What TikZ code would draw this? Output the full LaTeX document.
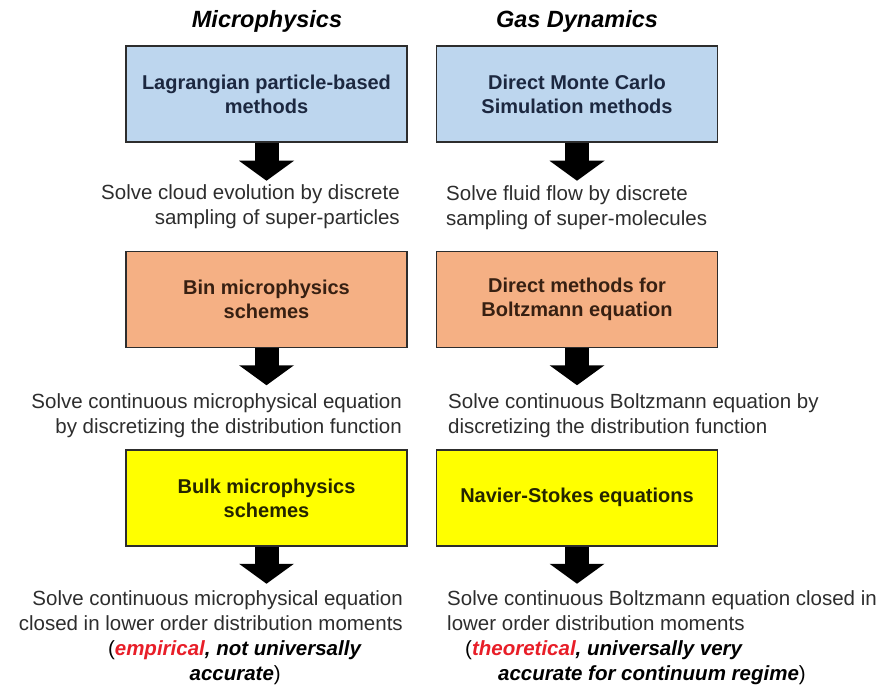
\documentclass[tikz,border=0pt]{standalone}
\usepackage{fontspec}
\setmainfont{Liberation Sans}
\usetikzlibrary{arrows.meta}
\definecolor{boxblue}{RGB}{189,214,238}
\definecolor{boxorange}{RGB}{245,176,132}
\definecolor{boxyellow}{RGB}{255,255,0}
\definecolor{boxline}{RGB}{45,45,45}
\definecolor{bluetext}{RGB}{28,40,64}
\definecolor{orangetext}{RGB}{55,32,18}
\definecolor{yellowtext}{RGB}{36,36,0}
\definecolor{bodytext}{RGB}{45,45,45}
\definecolor{hired}{RGB}{232,30,40}
\begin{document}
\begin{tikzpicture}[x=1pt,y=-1pt,
  box/.style={draw=boxline, line width=1.5pt, minimum width=281pt, minimum height=96pt,
    inner sep=0pt, align=center, font=\fontsize{20}{24}\selectfont\bfseries},
  desc/.style={inner sep=0pt, font=\fontsize{20.5}{25}\selectfont, text=bodytext},
  bigarrow/.style={draw=black, line width=24pt, -{Triangle[width=54pt,length=20pt]}},
  heading/.style={inner sep=0pt, anchor=base, font=\fontsize{23.5}{28}\selectfont\bfseries\itshape}]
\useasboundingbox (0,0) rectangle (892,687);

% headings
\node[heading] (hL) at (267,28) {Microphysics};
\node[heading] (hR) at (577,28) {Gas Dynamics};

% boxes
\node[box, fill=boxblue, text=bluetext] (b1L) at (266.5,94) {Lagrangian particle-based\\methods};
\node[box, fill=boxblue, text=bluetext] (b1R) at (577,94) {Direct Monte Carlo\\Simulation methods};
\node[box, fill=boxorange, text=orangetext] (b2L) at (266.5,299.5) {Bin microphysics\\schemes};
\node[box, fill=boxorange, text=orangetext] (b2R) at (577,299.5) {Direct methods for\\Boltzmann equation};
\node[box, fill=boxyellow, text=yellowtext] (b3L) at (266.5,498) {Bulk microphysics\\schemes};
\node[box, fill=boxyellow, text=yellowtext] (b3R) at (577,498) {\raisebox{6pt}{Navier-Stokes equations}};

% descriptions
\node[desc, anchor=north east, align=right] (d1L) at (400,184)
  {Solve cloud evolution by discrete\\sampling of super-particles};
\node[desc, anchor=north west, align=left] (d1R) at (446,185)
  {Solve fluid flow by discrete\\sampling of super-molecules};
\node[desc, anchor=north east, align=right] (d2L) at (402,393)
  {Solve continuous microphysical equation\\by discretizing the distribution function};
\node[desc, anchor=north west, align=left] (d2R) at (448,393)
  {Solve continuous Boltzmann equation by\\discretizing the distribution function};
\node[desc, anchor=north east, align=right, font=\fontsize{20.5}{25.3}\selectfont] (d3L) at (403,590)
  {Solve continuous microphysical equation\\closed in lower order distribution moments\\
   \textcolor{black}{(\textbf{\textit{\textcolor{hired}{empirical}, not universally}}}\hspace*{41pt}\mbox{}\\
   \textcolor{black}{\textbf{\textit{accurate}})}\hspace*{122pt}\mbox{}};
\node[desc, anchor=north west, align=left, font=\fontsize{20.5}{25.3}\selectfont] (d3R) at (447,590)
  {Solve continuous Boltzmann equation closed in\\lower order distribution moments\\
   \hspace*{18pt}\textcolor{black}{(\textbf{\textit{\textcolor{hired}{theoretical}, universally very}}}\\
   \hspace*{51pt}\textcolor{black}{\textbf{\textit{accurate for continuum regime}})}};

% arrow end points
\coordinate (e1L) at ([yshift=-38pt]b1L.south);
\coordinate (e1R) at ([yshift=-38pt]b1R.south);
\coordinate (e2L) at ([yshift=-37pt]b2L.south);
\coordinate (e2R) at ([yshift=-37pt]b2R.south);
\coordinate (e3L) at ([yshift=-37pt]b3L.south);
\coordinate (e3R) at ([yshift=-37pt]b3R.south);

\draw[bigarrow] (b1L.south) -- (e1L);
\draw[bigarrow] (b1R.south) -- (e1R);
\draw[bigarrow] (b2L.south) -- (e2L);
\draw[bigarrow] (b2R.south) -- (e2R);
\draw[bigarrow] (b3L.south) -- (e3L);
\draw[bigarrow] (b3R.south) -- (e3R);
\end{tikzpicture}
\end{document}
